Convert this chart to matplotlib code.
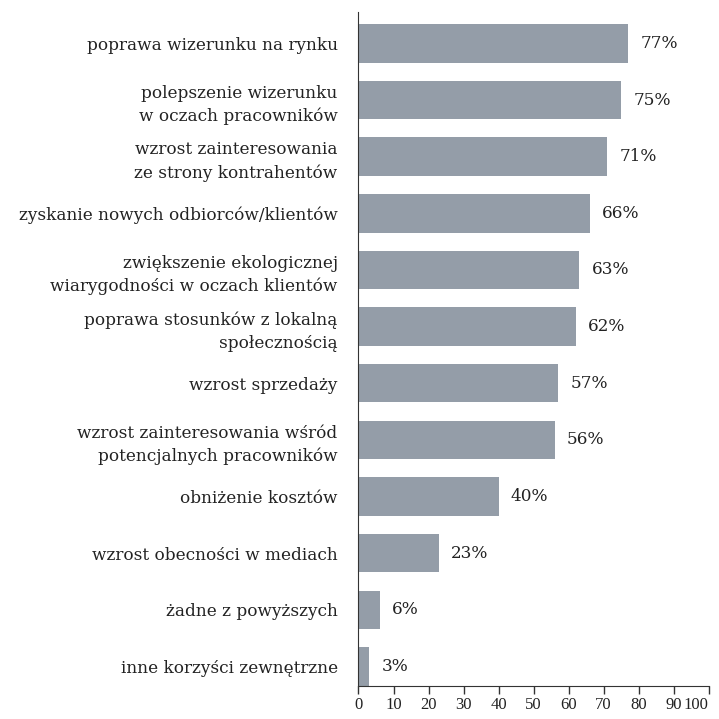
import matplotlib
matplotlib.use("Agg")
import matplotlib.pyplot as plt

categories = [
    "poprawa wizerunku na rynku",
    "polepszenie wizerunku\nw oczach pracowników",
    "wzrost zainteresowania\nze strony kontrahentów",
    "zyskanie nowych odbiorców/klientów",
    "zwiększenie ekologicznej\nwiarygodności w oczach klientów",
    "poprawa stosunków z lokalną\nspołecznością",
    "wzrost sprzedaży",
    "wzrost zainteresowania wśród\npotencjalnych pracowników",
    "obniżenie kosztów",
    "wzrost obecności w mediach",
    "żadne z powyższych",
    "inne korzyści zewnętrzne",
]
values = [77, 75, 71, 66, 63, 62, 57, 56, 40, 23, 6, 3]
xticks = [0, 10, 20, 30, 40, 50, 60, 70, 80, 90, 100]

plt.rcParams['font.family'] = ['DejaVu Serif']
color_bar = '#949da8'
text_color = '#222222'

fig = plt.figure(figsize=(7.19, 7.19), dpi=100)
ax = fig.add_axes([0.4986, 0.0463, 0.4871, 0.9367])

n = len(categories)
pos = list(range(n - 1, -1, -1))
ax.barh(pos, values, height=0.68, color=color_bar)
for p, v in zip(pos, values):
    ax.text(v + 3.5, p, f"{v}%", va='center', ha='left', fontsize=12.2, color=text_color)

ax.set_xlim(0, 100)
ax.set_ylim(-0.34, n - 1 + 0.55)
ax.set_yticks(pos)
ax.set_yticklabels(categories, fontsize=12.2, color=text_color, linespacing=1.45)
ax.set_xticks(xticks)
ax.set_xticklabels([str(t) for t in xticks], fontsize=12, color=text_color,
                   family=['Liberation Serif', 'DejaVu Serif'])
ax.get_xticklabels()[-1].set_ha('right')
ax.tick_params(axis='y', length=0, pad=15)
ax.tick_params(axis='x', length=5.5, width=1, color='#333333', pad=2.5)
for s in ['top', 'right']:
    ax.spines[s].set_visible(False)
ax.spines['left'].set_color('#333333')
ax.spines['bottom'].set_color('#333333')

fig.savefig("out.png", dpi=100)
